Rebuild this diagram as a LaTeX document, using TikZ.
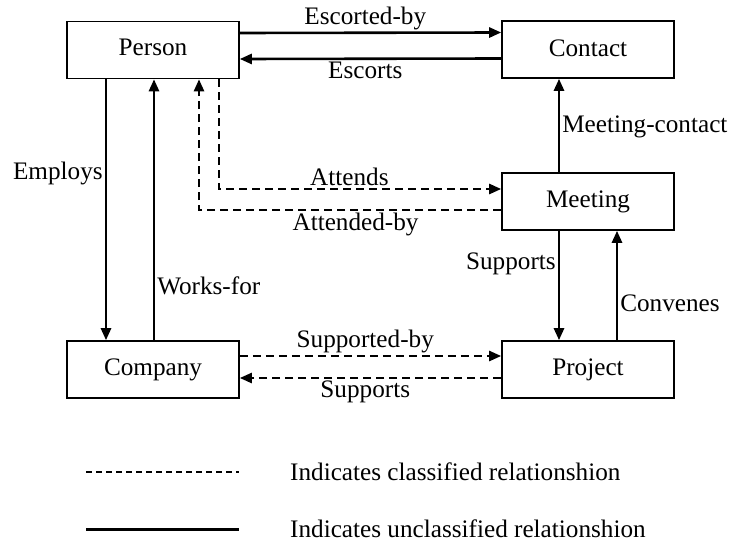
\documentclass[tikz,border=0pt]{standalone}
\usepackage{fontspec}
\setmainfont{Liberation Serif}
\usetikzlibrary{arrows.meta}
\begin{document}
\begin{tikzpicture}[x=1pt,y=-1pt,
  font=\fontsize{25.2}{29}\selectfont,
  entity/.style={draw, line width=1.6pt, minimum width=172pt, minimum height=57pt, inner sep=0pt},
  rel/.style={line width=2.6pt, -{Triangle[length=12pt,width=10pt]}},
  solidrel/.style={rel},
  classrel/.style={rel, line width=2.4pt, dash pattern=on 8pt off 5pt},
  lbl/.style={inner sep=2pt}]
\useasboundingbox (0,0) rectangle (733,543);

% entities
\node[entity] (person)  at (153,50)    {\raisebox{5pt}{Person}};
\node[entity] (contact) at (588,49.5)  {\raisebox{2pt}{Contact}};
\node[entity] (meeting) at (588,201.5) {\raisebox{2pt}{Meeting}};
\node[entity] (company) at (153,369.5) {Company};
\node[entity] (project) at (588,369.5) {Project};

% Person <-> Contact
\draw[solidrel] ([yshift=17pt]person.east) -- ([yshift=17pt]contact.west)
  node[lbl, above, pos=0.48] {Escorted-by};
\draw[solidrel] ([yshift=-9pt]contact.west) -- ([yshift=-9pt]person.east)
  node[lbl, below, pos=0.52] {Escorts};

% Person <-> Company
\draw[solidrel] ([xshift=-47pt]person.south) -- ([xshift=-47pt]company.north)
  node[lbl, left, pos=0.36] {Employs};
\draw[solidrel] ([xshift=1pt]company.north) -- ([xshift=1pt]person.south)
  node[lbl, right, pos=0.21] {Works-for};

% Person <-> Meeting
\draw[classrel] ([xshift=66pt]person.south) |- ([yshift=12.5pt]meeting.west)
  node[lbl, above, pos=0.731] {Attends};
\draw[classrel] ([yshift=-8.5pt]meeting.west) -| ([xshift=46pt]person.south)
  node[lbl, below, pos=0.241] {Attended-by};

% Meeting -> Contact
\draw[solidrel] ([xshift=-29pt]meeting.north) -- ([xshift=-29pt]contact.south)
  node[lbl, right, pos=0.48] {Meeting-contact};

% Meeting <-> Project
\draw[solidrel] ([xshift=-29pt]meeting.south) -- ([xshift=-29pt]project.north)
  node[lbl, left, pos=0.3] {Supports};
\draw[solidrel] ([xshift=29pt]project.north) -- ([xshift=29pt]meeting.south)
  node[lbl, right, pos=0.34] {Convenes};

% Company <-> Project
\draw[classrel] ([yshift=13.5pt]company.east) -- ([yshift=13.5pt]project.west)
  node[lbl, above, pos=0.48] {Supported-by};
\draw[classrel] ([yshift=-8.5pt]project.west) -- ([yshift=-8.5pt]company.east)
  node[lbl, below, pos=0.52] {Supports};

% legend
\coordinate (dashA) at (86,472);
\coordinate (dashB) at (239,472);
\coordinate (lineA) at (86,529);
\coordinate (lineB) at (239,529);
\draw[line width=2.4pt, dash pattern=on 6pt off 4pt] (dashA) -- (dashB);
\draw[line width=3pt] (lineA) -- (lineB);
\node[lbl, anchor=west] (classified) at (288,472) {Indicates classified relationshion};
\node[lbl, anchor=west] (unclassified) at (288,529) {Indicates unclassified relationshion};
\end{tikzpicture}
\end{document}
